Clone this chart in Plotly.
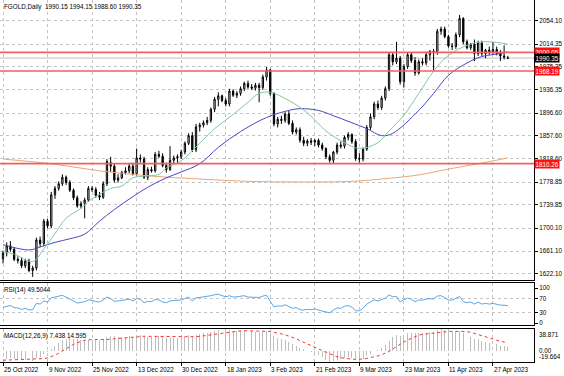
import plotly.graph_objects as go

# ---------------- data ----------------
opens = [1648, 1658, 1670, 1664, 1647, 1645, 1636, 1644, 1628, 1632,
         1680, 1674, 1712, 1704, 1757, 1768, 1776, 1787, 1778, 1765,
         1752, 1738, 1742, 1748, 1768, 1766, 1756, 1753, 1776, 1812,
         1806, 1782, 1786, 1795, 1798, 1806, 1793, 1820, 1818, 1787,
         1800, 1798, 1826, 1823, 1807, 1800, 1816, 1820, 1822, 1830,
         1845, 1858, 1834, 1873, 1876, 1880, 1884, 1903, 1920, 1926,
         1918, 1912, 1934, 1927, 1930, 1938, 1947, 1941, 1939, 1944,
         1940, 1958, 1970, 1930, 1878, 1886, 1884, 1895, 1879, 1864,
         1868, 1850, 1845, 1849, 1847, 1850, 1842, 1836, 1822, 1816,
         1830, 1842, 1840, 1855, 1860, 1848, 1819, 1818, 1835, 1872,
         1890, 1912, 1906, 1922, 1938, 1996, 1984, 1990, 1950, 1976,
         1996, 1986, 1965, 1984, 1982, 1996, 2002, 2000, 2036, 2040,
         2027, 2011, 2010, 2030, 2058, 2018, 2008, 2014, 1998, 2016,
         1998, 2004, 2000, 2005, 1998, 1994, 1990.15]
highs = [1662, 1676, 1678, 1668, 1652, 1650, 1648, 1648, 1636, 1684,
         1686, 1716, 1716, 1762, 1772, 1780, 1792, 1790, 1782, 1768,
         1756, 1746, 1752, 1772, 1772, 1770, 1762, 1780, 1818, 1822,
         1810, 1792, 1798, 1804, 1810, 1812, 1836, 1826, 1822, 1804,
         1805, 1830, 1832, 1828, 1812, 1840, 1824, 1826, 1834, 1848,
         1862, 1864, 1878, 1880, 1884, 1890, 1906, 1924, 1932, 1928,
         1922, 1938, 1937, 1934, 1942, 1950, 1952, 1946, 1948, 1948,
         1962, 1975, 1972, 1932, 1890, 1892, 1898, 1900, 1884, 1872,
         1872, 1856, 1852, 1854, 1852, 1853, 1846, 1838, 1826, 1832,
         1846, 1848, 1858, 1864, 1862, 1852, 1828, 1838, 1876, 1896,
         1916, 1918, 1926, 1942, 2000, 2000, 2018, 1994, 1980, 2000,
         2000, 1992, 1988, 1990, 2000, 2004, 2006, 2040, 2044, 2044,
         2030, 2016, 2034, 2064, 2060, 2022, 2016, 2022, 2020, 2020,
         2006, 2010, 2018, 2010, 2004, 2012, 1994.15]
lows = [1640, 1652, 1660, 1644, 1640, 1632, 1632, 1625, 1617, 1628,
        1668, 1670, 1700, 1700, 1750, 1764, 1772, 1774, 1762, 1748,
        1735, 1734, 1717, 1745, 1762, 1752, 1748, 1750, 1772, 1796,
        1778, 1778, 1784, 1792, 1794, 1790, 1790, 1812, 1784, 1782,
        1795, 1795, 1820, 1804, 1795, 1798, 1810, 1810, 1818, 1826,
        1842, 1830, 1830, 1865, 1872, 1876, 1880, 1898, 1908, 1915,
        1908, 1908, 1924, 1922, 1926, 1934, 1938, 1936, 1935, 1915,
        1936, 1952, 1926, 1874, 1872, 1878, 1880, 1876, 1860, 1860,
        1846, 1840, 1840, 1842, 1840, 1838, 1832, 1818, 1812, 1811,
        1826, 1836, 1836, 1850, 1844, 1815, 1812, 1814, 1832, 1868,
        1886, 1902, 1902, 1918, 1934, 1978, 1980, 1945, 1940, 1972,
        1982, 1960, 1962, 1978, 1978, 1986, 1970, 1996, 2030, 2024,
        2008, 2004, 2006, 2026, 2014, 2005, 2004, 1985, 1994, 1994,
        1990, 1996, 1996, 1995, 1985, 1988, 1988.60]
closes = [1658, 1670, 1664, 1647, 1645, 1636, 1644, 1628, 1632, 1680,
          1674, 1712, 1704, 1757, 1768, 1776, 1787, 1778, 1765, 1752,
          1738, 1742, 1748, 1768, 1766, 1756, 1753, 1776, 1814, 1806,
          1782, 1786, 1795, 1798, 1806, 1793, 1820, 1818, 1787, 1800,
          1798, 1826, 1823, 1807, 1800, 1816, 1820, 1822, 1830, 1845,
          1858, 1834, 1873, 1876, 1880, 1884, 1903, 1920, 1926, 1918,
          1912, 1934, 1927, 1930, 1938, 1947, 1941, 1939, 1944, 1940,
          1958, 1970, 1930, 1878, 1886, 1884, 1895, 1879, 1864, 1868,
          1850, 1845, 1849, 1847, 1850, 1842, 1836, 1822, 1816, 1830,
          1842, 1840, 1855, 1860, 1848, 1819, 1818, 1835, 1872, 1890,
          1912, 1906, 1922, 1938, 1996, 1984, 1990, 1950, 1976, 1996,
          1986, 1965, 1984, 1982, 1996, 2002, 2000, 2036, 2040, 2027,
          2011, 2010, 2030, 2058, 2018, 2008, 2014, 1998, 2016, 1998,
          2004, 2000, 2005, 1998, 1994, 1992, 1990.35]
bars = list(range(len(closes)))

# moving averages read at sample bars
ma_fast_bars = [0, 3, 8, 11, 14, 17, 21, 23, 26, 29, 32, 35, 38, 42, 44, 48, 53, 57, 62, 66,
                69, 72, 77, 82, 87, 92, 96, 101, 104, 108, 112, 116, 120, 125, 129, 133, 136]
ma_fast_vals = [1660, 1656, 1643, 1665, 1691, 1717, 1734, 1746, 1758, 1768, 1772, 1786, 1789, 1792,
                1803, 1815, 1845, 1870, 1894, 1915, 1930, 1932, 1918, 1897, 1866, 1846, 1836, 1846,
                1866, 1893, 1930, 1968, 1995, 2012, 2018, 2017, 2014]
ma_mid_bars = [0, 7, 10, 14, 18, 22, 26, 30, 35, 39, 44, 48, 53, 58, 64, 71, 77, 80, 85, 89,
               94, 98, 102, 105, 112, 116, 120, 125, 129, 134, 136]
ma_mid_vals = [1672, 1663, 1668, 1676, 1682, 1690, 1712, 1732, 1754, 1770, 1786, 1796, 1810, 1838,
               1865, 1889, 1901, 1904, 1901, 1892, 1880, 1870, 1858, 1862, 1901, 1930, 1961, 1982,
               1993, 1998, 2001]
ma_slow_bars = [0, 13, 26, 40, 53, 66, 80, 94, 102, 112, 120, 128, 136]
ma_slow_vals = [1818, 1810, 1798, 1789, 1784, 1780, 1779, 1780, 1784, 1791, 1801, 1810, 1820]

rsi_vals = [45, 48, 50, 44, 43, 39, 42, 37, 38, 56,
            54, 63, 60, 72, 75, 77, 79, 74, 68, 63,
            57, 59, 61, 66, 65, 61, 60, 66, 74, 70,
            62, 63, 65, 66, 68, 63, 70, 68, 58, 62,
            61, 67, 66, 60, 58, 63, 64, 64, 66, 70,
            74, 63, 72, 73, 74, 75, 78, 81, 82, 78,
            75, 78, 74, 75, 76, 78, 74, 73, 74, 73,
            77, 79, 62, 46, 49, 48, 52, 46, 42, 44,
            38, 37, 39, 38, 40, 37, 35, 31, 29, 37,
            43, 42, 48, 50, 45, 35, 35, 42, 54, 60,
            66, 63, 67, 71, 80, 75, 76, 60, 67, 71,
            68, 61, 66, 65, 69, 70, 69, 77, 78, 72,
            66, 65, 70, 76, 61, 58, 60, 54, 60, 54,
            56, 54, 56, 53, 51, 51, 49.5044]

macd_main = [-15, -14, -13, -13.5, -14.5, -15.5, -16, -17, -17.5, -13,
             -10, -5.5, -2.5, 3.5, 9.5, 14.5, 19, 21.5, 22.5, 22,
             20.5, 19.5, 19, 19.5, 20, 19.5, 19, 20.5, 24.5, 26.5,
             26, 25.5, 25.5, 25.5, 26, 25.5, 27, 27.5, 25.5, 25,
             24.5, 25.5, 26, 25, 23.5, 23.5, 23.5, 23.5, 24, 25.5,
             27.5, 26.5, 28.5, 30, 31, 31.5, 33, 35, 36.5, 36.5,
             35.5, 36.5, 36, 35.5, 35.5, 36, 35.5, 34.5, 34, 33,
             33.5, 34.5, 32.5, 27, 23.5, 20.5, 18.5, 15.5, 12, 9.5,
             6, 3, 0.5, -2, -4.5, -7.5, -11, -15.5, -19.664, -18,
             -16, -14.5, -13, -11.5, -12, -14.5, -15.5, -13.5, -9, -5,
             -1, 2, 6, 10, 18, 24, 28, 27, 28.5, 31,
             32, 31, 31.5, 31.5, 32.5, 33.5, 33.5, 37, 38.871, 37.5,
             35, 33, 33, 35, 31.5, 28, 25.5, 22, 20.5, 18,
             16.5, 14.5, 13.5, 11.5, 9.5, 8.5, 7.438]
macd_signal = [-16.5, -16.3, -16, -15.8, -15.6, -15.4, -15.3, -15.2, -15.1, -14.9,
               -14.4, -13.6, -12.4, -10.4, -7.6, -4.2, -0.2, 4.1, 8.1, 11.6,
               14.5, 16.9, 18.7, 19.8, 20.4, 20.4, 20.2, 19.9, 20.2, 20.9,
               21.6, 22.3, 23, 23.6, 24.3, 25.1, 25.8, 26.1, 26, 25.9,
               25.8, 25.8, 25.8, 25.7, 25.5, 25.1, 24.7, 24.4, 24.3, 24.4,
               24.7, 24.7, 25.1, 25.8, 26.7, 27.6, 28.6, 29.8, 31.1, 32.1,
               33.1, 33.9, 34.6, 35.1, 35.6, 35.9, 35.9, 35.7, 35.4, 35.2,
               34.8, 34.7, 34.3, 33.4, 32, 30.3, 28.6, 26.5, 24.2, 21.5,
               18.3, 15.1, 12.1, 9.3, 6.5, 3.6, 0.7, -2.4, -5.6, -8.3,
               -10.4, -12.1, -13.3, -14.1, -14.6, -15, -15, -14.3, -13.3, -12.1,
               -10.6, -8.9, -6.9, -4.5, -0.9, 3.5, 8.1, 12.1, 15.8, 19.4,
               22.7, 25.5, 27.9, 29.4, 30.3, 30.9, 31.7, 32.6, 33.5, 34.1,
               34.5, 34.7, 34.9, 35.2, 34.9, 34.3, 33, 31.2, 29.3, 27.4,
               25.6, 23.5, 21.1, 18.9, 16.8, 15.6, 14.595]

date_labels = ["25 Oct 2022", "9 Nov 2022", "25 Nov 2022", "13 Dec 2022", "30 Dec 2022",
               "18 Jan 2023", "3 Feb 2023", "21 Feb 2023", "9 Mar 2023", "23 Mar 2023",
               "11 Apr 2023", "27 Apr 2023"]
label_bars = [0, 12, 24, 36, 48, 60, 72, 84, 96, 108, 120, 132]

price_ticks = [2054.10, 2014.35, 1975.35, 1936.35, 1896.60, 1857.60, 1818.60,
               1778.85, 1739.85, 1700.10, 1661.10, 1622.10]
level_lines = [2000.05, 1968.19, 1810.26]
last_price = 1990.35
rsi_levels = [30, 70]
rsi_ticks = [100, 70, 30, 0]
macd_top, macd_bottom = 38.871, -19.664

# ---------------- figure ----------------
FONT = "Liberation Sans"
FS = 6.3
GRID = "#c4c4c4"

fig = go.Figure()

fig.add_trace(go.Candlestick(
    x=bars, open=opens, high=highs, low=lows, close=closes,
    increasing=dict(line=dict(color="black", width=1), fillcolor="white"),
    decreasing=dict(line=dict(color="black", width=1), fillcolor="black"),
    whiskerwidth=0, xaxis="x", yaxis="y", showlegend=False))

fig.add_trace(go.Scatter(x=ma_slow_bars, y=ma_slow_vals, mode="lines", line_shape="spline",
                         line=dict(color="#e8a878", width=1), xaxis="x", yaxis="y", showlegend=False))
fig.add_trace(go.Scatter(x=ma_mid_bars, y=ma_mid_vals, mode="lines", line_shape="spline",
                         line=dict(color="#4a46c4", width=1), xaxis="x", yaxis="y", showlegend=False))
fig.add_trace(go.Scatter(x=ma_fast_bars, y=ma_fast_vals, mode="lines", line_shape="spline",
                         line=dict(color="#82c89c", width=1), xaxis="x", yaxis="y", showlegend=False))

fig.add_trace(go.Scatter(x=bars, y=rsi_vals, mode="lines",
                         line=dict(color="#5aa6e8", width=1), xaxis="x2", yaxis="y2", showlegend=False))

fig.add_trace(go.Bar(x=bars, y=macd_main, width=0.26, marker=dict(color="#bdbdbd", line=dict(width=0)),
                     xaxis="x3", yaxis="y3", showlegend=False))
fig.add_trace(go.Scatter(x=bars, y=macd_signal, mode="lines",
                         line=dict(color="#ff3030", width=1, dash="dot"), xaxis="x3", yaxis="y3",
                         showlegend=False))

# geometry
H, W = 376, 564
mt, mb, ml, mr = 0, 14, 0, 30
ph = H - mt - mb


def dom(top_px, bot_px):
    return [1 - (bot_px - mt) / ph, 1 - (top_px - mt) / ph]


px_per_bar = 3.712
first_px = 3.0
pw = W - ml - mr
xr = [-first_px / px_per_bar, (pw - first_px) / px_per_bar]

price_per_px = 1.706
y_ref_px, y_ref_val = 20.7, 2054.10
main_top_px, main_bot_px = 0, 280
main_range = [y_ref_val - (main_bot_px - y_ref_px) * price_per_px,
              y_ref_val + (y_ref_px - main_top_px) * price_per_px]

rsi_top_px, rsi_bot_px = 283, 325
rsi_ppu = 0.35
rsi_range = [30 - (rsi_bot_px - 312.5) / rsi_ppu, 70 + (298.5 - rsi_top_px) / rsi_ppu]

macd_top_px, macd_bot_px = 329, 362

common_x = dict(range=xr, showgrid=True, griddash="dot", gridcolor=GRID, gridwidth=1,
                tickvals=label_bars, showticklabels=False, showline=True, mirror=True,
                linecolor="black", linewidth=1, zeroline=False, fixedrange=True)

fig.update_layout(
    width=W, height=H, margin=dict(l=ml, r=mr, t=mt, b=mb, autoexpand=False),
    paper_bgcolor="white", plot_bgcolor="white", showlegend=False,
    boxgap=0.5, bargap=0,
    font=dict(family=FONT, size=FS, color="black"),
    xaxis=dict(common_x, anchor="y", rangeslider=dict(visible=False), ticks=""),
    xaxis2=dict(common_x, anchor="y2", ticks=""),
    xaxis3=dict(common_x, anchor="y3", ticks="outside", ticklen=3, tickcolor="black"),
    yaxis=dict(domain=dom(main_top_px, main_bot_px), range=main_range, side="right",
               tickvals=price_ticks, ticktext=[f"{v:.2f}" for v in price_ticks],
               tickfont=dict(family=FONT, size=FS), ticks="outside", ticklen=3, tickcolor="black",
               showgrid=True, griddash="dot", gridcolor=GRID, showline=True, mirror=True,
               linecolor="black", zeroline=False, fixedrange=True),
    yaxis2=dict(domain=dom(rsi_top_px, rsi_bot_px), range=rsi_range, side="right",
                tickvals=rsi_ticks, ticktext=[str(v) for v in rsi_ticks],
                tickfont=dict(family=FONT, size=FS), ticks="outside", ticklen=3, tickcolor="black",
                showgrid=False, showline=True, mirror=True, linecolor="black", zeroline=False,
                fixedrange=True),
    yaxis3=dict(domain=dom(macd_top_px, macd_bot_px), range=[macd_bottom, macd_top], side="right",
                showticklabels=False, ticks="", showgrid=False, showline=True, mirror=True,
                linecolor="black", zeroline=False, fixedrange=True),
)

shapes = []
for lv in level_lines:
    shapes.append(dict(type="line", xref="x domain", yref="y", x0=0, x1=1, y0=lv, y1=lv,
                       line=dict(color="#f06060", width=1.6), layer="above"))
shapes.append(dict(type="line", xref="x domain", yref="y", x0=0, x1=1, y0=last_price, y1=last_price,
                   line=dict(color="#c0c0c0", width=1), layer="below"))
for lv in rsi_levels:
    shapes.append(dict(type="line", xref="x2 domain", yref="y2", x0=0, x1=1, y0=lv, y1=lv,
                       line=dict(color=GRID, width=1, dash="dot"), layer="below"))
fig.update_layout(shapes=shapes)

ann = []
ann.append(dict(xref="paper", yref="paper", x=0, y=1, xanchor="left", yanchor="top", xshift=2, yshift=-1,
                text="FGOLD,Daily  1990.15 1994.15 1988.60 1990.35", showarrow=False,
                font=dict(size=FS, family=FONT)))
ann.append(dict(xref="paper", yref="y2 domain", x=0, y=1, xanchor="left", yanchor="top", xshift=2, yshift=-1,
                text="RSI(14) 49.5044", showarrow=False, font=dict(size=FS, family=FONT)))
ann.append(dict(xref="paper", yref="y3 domain", x=0, y=1, xanchor="left", yanchor="top", xshift=2, yshift=-1,
                text="MACD(12,26,9) 7.438 14.595", showarrow=False, font=dict(size=FS, family=FONT)))
for lv in level_lines:
    ann.append(dict(xref="paper", yref="y", x=1, y=lv, xanchor="left", yanchor="middle", xshift=0,
                    text=f"{lv:.2f}", showarrow=False, bgcolor="#ff1010", borderpad=0.5,
                    font=dict(size=FS, family=FONT, color="white")))
ann.append(dict(xref="paper", yref="y", x=1, y=last_price, xanchor="left", yanchor="middle", xshift=0,
                text=f"{last_price:.2f}", showarrow=False, bgcolor="black", borderpad=0.5,
                font=dict(size=FS, family=FONT, color="white")))
ann.append(dict(xref="paper", yref="y3 domain", x=1, y=1, xanchor="left", yanchor="top", xshift=3,
                text=f"{macd_top:.3f}", showarrow=False, font=dict(size=FS, family=FONT)))
ann.append(dict(xref="paper", yref="y3", x=1, y=0, xanchor="left", yanchor="middle", xshift=3,
                text="0.00", showarrow=False, font=dict(size=FS, family=FONT)))
ann.append(dict(xref="paper", yref="y3 domain", x=1, y=0, xanchor="left", yanchor="bottom", xshift=3,
                text=f"{macd_bottom:.3f}", showarrow=False, font=dict(size=FS, family=FONT)))
for b, lab in zip(label_bars, date_labels):
    ann.append(dict(xref="x3", yref="paper", x=b, y=0, xanchor="left", yanchor="top", xshift=-1, yshift=-2,
                    text=lab, showarrow=False, font=dict(size=FS, family=FONT)))
fig.update_layout(annotations=ann)

fig.write_html("out.html", config={"displayModeBar": False, "staticPlot": True},
               post_script="document.body.style.margin='0';document.body.style.padding='0';"
                           "document.body.style.overflow='hidden';")
